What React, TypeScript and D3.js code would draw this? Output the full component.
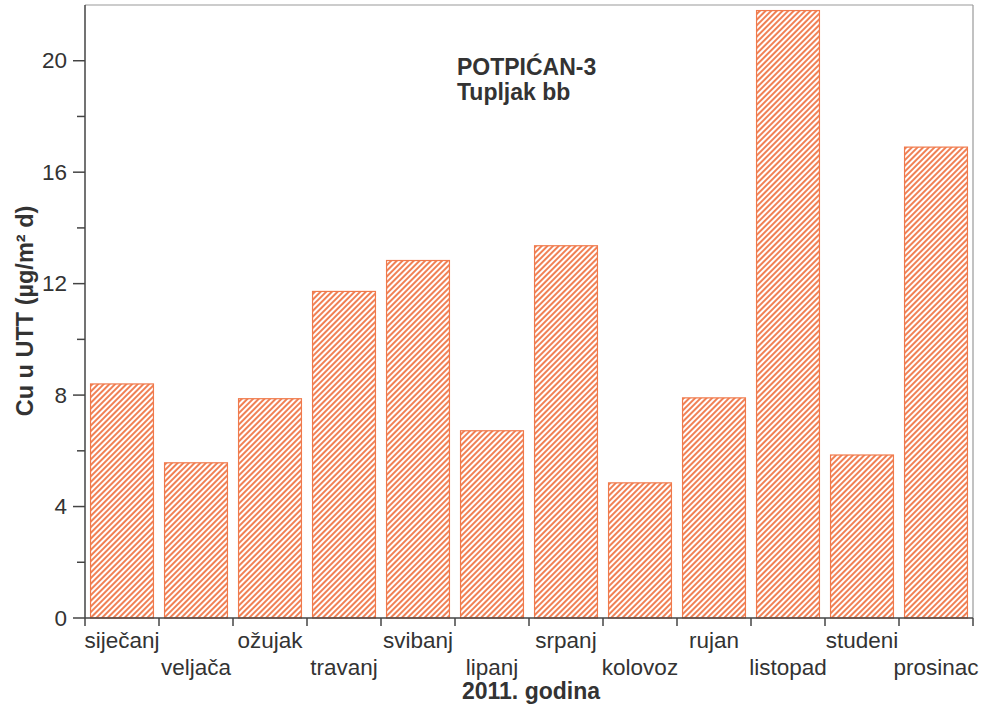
import React from "react";
import * as d3 from "d3";

const months = ["siječanj", "veljača", "ožujak", "travanj", "svibanj", "lipanj", "srpanj", "kolovoz", "rujan", "listopad", "studeni", "prosinac"];
const values = [8.4, 5.57, 7.87, 11.72, 12.83, 6.72, 13.36, 4.85, 7.9, 21.8, 5.85, 16.9];
const majorTicks = [0, 4, 8, 12, 16, 20];
const minorTicks = [2, 6, 10, 14, 18];
const titleLines = ["POTPIĆAN-3", "Tupljak bb"];
const yLabel = "Cu u UTT (µg/m² d)";
const xLabel = "2011. godina";

const W = 985;
const H = 705;
const left = 85;
const right = 973;
const top = 5;
const bottom = 618;
const font = "'Liberation Sans', Arial, Helvetica, sans-serif";
const orange = "#f07a4c";
const textColor = "#333";
const axisColor = "#444";

export default function App() {
  const x = d3.scaleBand<string>().domain(months).range([left, right]).paddingInner(0.15).paddingOuter(0.075);
  const y = d3.scaleLinear().domain([0, 22]).range([bottom, top]);
  const step = x.step();
  const boundaries = d3.range(months.length + 1).map((i) => left + i * step);

  return (
    <svg width={W} height={H} style={{ position: "absolute", left: 0, top: 0, background: "#fff" }} fontFamily={font}>
      <defs>
        <pattern id="hatch" patternUnits="userSpaceOnUse" width={4} height={4} patternTransform="rotate(45)">
          <rect width={4} height={4} fill="#fff" />
          <line x1={1} y1={-1} x2={1} y2={5} stroke={orange} strokeWidth={1.9} />
        </pattern>
      </defs>
      <rect x={0} y={0} width={W} height={H} fill="#fff" />
      {/* frame */}
      <line x1={left} y1={top} x2={right} y2={top} stroke="#999" strokeWidth={1.2} />
      <line x1={right} y1={top} x2={right} y2={bottom} stroke="#999" strokeWidth={1.2} />
      {/* bars */}
      {months.map((m, i) => (
        <rect
          key={m}
          x={x(m)}
          y={y(values[i])}
          width={x.bandwidth()}
          height={bottom - y(values[i])}
          fill="url(#hatch)"
          stroke={orange}
          strokeWidth={1.2}
        />
      ))}
      {/* y axis */}
      <line x1={left} y1={top} x2={left} y2={bottom} stroke={axisColor} strokeWidth={1.5} />
      {majorTicks.map((t) => (
        <g key={"M" + t}>
          <line x1={left - 12} x2={left} y1={y(t)} y2={y(t)} stroke={axisColor} strokeWidth={1.5} />
          <text x={67} y={y(t)} textAnchor="end" dominantBaseline="central" fontSize={22.5} fill={textColor}>
            {t}
          </text>
        </g>
      ))}
      {minorTicks.map((t) => (
        <line key={"m" + t} x1={left - 8} x2={left} y1={y(t)} y2={y(t)} stroke={axisColor} strokeWidth={1.5} />
      ))}
      {/* x axis */}
      <line x1={left} y1={bottom} x2={right} y2={bottom} stroke={axisColor} strokeWidth={1.5} />
      {boundaries.map((b, i) => (
        <line key={"b" + i} x1={b} x2={b} y1={bottom} y2={bottom + 8} stroke={axisColor} strokeWidth={1.5} />
      ))}
      {months.map((m, i) => (
        <text
          key={"l" + m}
          x={(x(m) as number) + x.bandwidth() / 2}
          y={i % 2 === 0 ? 648 : 675}
          textAnchor="middle"
          fontSize={22.5}
          fill={textColor}
        >
          {m}
        </text>
      ))}
      {/* titles */}
      {titleLines.map((t, i) => (
        <text key={t} x={457} y={75 + i * 25} fontSize={23} fontWeight="bold" fill={textColor}>
          {t}
        </text>
      ))}
      <text
        transform={`translate(33, 311) rotate(-90)`}
        textAnchor="middle"
        fontSize={23.5}
        fontWeight="bold"
        fill={textColor}
      >
        {yLabel}
      </text>
      <text x={531} y={699} textAnchor="middle" fontSize={23} fontWeight="bold" fill={textColor}>
        {xLabel}
      </text>
    </svg>
  );
}
